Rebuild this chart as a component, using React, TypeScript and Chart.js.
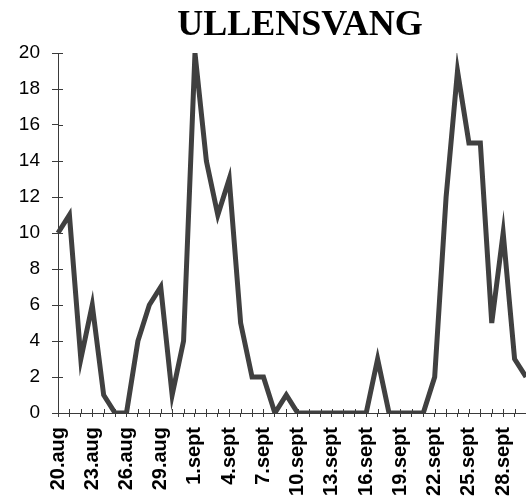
import React, { useEffect, useRef } from "react";
import { Chart, registerables } from "chart.js";

Chart.register(...registerables);

const TITLE = "ULLENSVANG";

const dates: string[] = [
  "20.aug", "21.aug", "22.aug", "23.aug", "24.aug", "25.aug", "26.aug", "27.aug",
  "28.aug", "29.aug", "30.aug", "31.aug",
  "1.sept", "2.sept", "3.sept", "4.sept", "5.sept", "6.sept", "7.sept", "8.sept",
  "9.sept", "10.sept", "11.sept", "12.sept", "13.sept", "14.sept", "15.sept",
  "16.sept", "17.sept", "18.sept", "19.sept", "20.sept", "21.sept", "22.sept",
  "23.sept", "24.sept", "25.sept", "26.sept", "27.sept", "28.sept", "29.sept", "30.sept",
];

const values: number[] = [
  10, 11, 3, 6, 1, 0, 0, 4, 6, 7, 1, 4,
  20, 14, 11, 13, 5, 2, 2, 0, 1, 0, 0, 0, 0, 0, 0,
  0, 3, 0, 0, 0, 0, 2, 12, 19, 15, 15, 5, 10, 3, 2,
];

const yMin = 0;
const yMax = 20;
const yStep = 2;
const labelEvery = 3;

const AXIS_COLOR = "#3a3a3a";
const LINE_COLOR = "#404040";

const innerTicks = {
  id: "innerTicks",
  beforeDatasetsDraw(chart: any) {
    const ctx = chart.ctx;
    const { left, bottom } = chart.chartArea;
    ctx.save();
    ctx.strokeStyle = AXIS_COLOR;
    ctx.lineWidth = 1;
    const ys = chart.scales.y;
    ys.ticks.forEach((_: any, i: number) => {
      const py = Math.round(ys.getPixelForTick(i)) + 0.5;
      ctx.beginPath();
      ctx.moveTo(left, py);
      ctx.lineTo(left + 5, py);
      ctx.stroke();
    });
    const xs = chart.scales.x;
    xs.ticks.forEach((_: any, i: number) => {
      const px = Math.round(xs.getPixelForTick(i)) + 0.5;
      ctx.beginPath();
      ctx.moveTo(px, bottom);
      ctx.lineTo(px, bottom - 4);
      ctx.stroke();
    });
    ctx.restore();
  },
};

const titlePlugin = {
  id: "customTitle",
  afterDraw(chart: any) {
    const ctx = chart.ctx;
    ctx.save();
    ctx.fillStyle = "#000";
    ctx.font = "bold 36px 'Liberation Serif', 'Times New Roman', serif";
    ctx.textAlign = "center";
    ctx.textBaseline = "alphabetic";
    ctx.fillText(TITLE, 300, 35);
    ctx.restore();
  },
};

export default function App() {
  const ref = useRef<HTMLCanvasElement | null>(null);

  useEffect(() => {
    if (!ref.current) return;
    const chart = new Chart(ref.current, {
      type: "line",
      data: {
        labels: dates,
        datasets: [
          {
            data: values,
            borderColor: LINE_COLOR,
            borderWidth: 5,
            pointRadius: 0,
            tension: 0,
            fill: false,
          },
        ],
      },
      options: {
        animation: false,
        responsive: false,
        maintainAspectRatio: false,
        layout: { padding: { top: 53, right: 0, left: 0, bottom: 0 } },
        plugins: {
          legend: { display: false },
          title: { display: false },
          tooltip: { enabled: false },
        },
        scales: {
          x: {
            offset: false,
            grid: {
              drawOnChartArea: false,
              drawTicks: true,
              tickLength: 4,
              color: AXIS_COLOR,
            },
            border: { display: true, color: AXIS_COLOR, width: 1 },
            ticks: {
              autoSkip: false,
              maxRotation: 90,
              minRotation: 90,
              padding: 10,
              color: "#000",
              font: { family: "'Liberation Sans', Arial, sans-serif", size: 20, weight: "bold" },
              callback: (_v: any, i: number) => (i % labelEvery === 0 ? dates[i] : ""),
            },
            afterFit: (s: any) => {
              s.height = 91;
              s.paddingRight = 0;
              s.paddingLeft = 0;
            },
          },
          y: {
            min: yMin,
            max: yMax,
            grid: {
              drawOnChartArea: false,
              drawTicks: true,
              tickLength: 6,
              color: AXIS_COLOR,
            },
            border: { display: true, color: AXIS_COLOR, width: 1 },
            ticks: {
              stepSize: yStep,
              padding: 12,
              color: "#000",
              font: { family: "'Liberation Sans', Arial, sans-serif", size: 19 },
            },
            afterFit: (s: any) => {
              s.width = 58;
            },
          },
        },
      },
      plugins: [innerTicks, titlePlugin],
    });
    return () => chart.destroy();
  }, []);

  return (
    <div style={{ position: "fixed", left: 0, top: 0, width: 526, height: 504, background: "#fff" }}>
      <canvas ref={ref} width={526} height={504} style={{ width: 526, height: 504 }} />
    </div>
  );
}
